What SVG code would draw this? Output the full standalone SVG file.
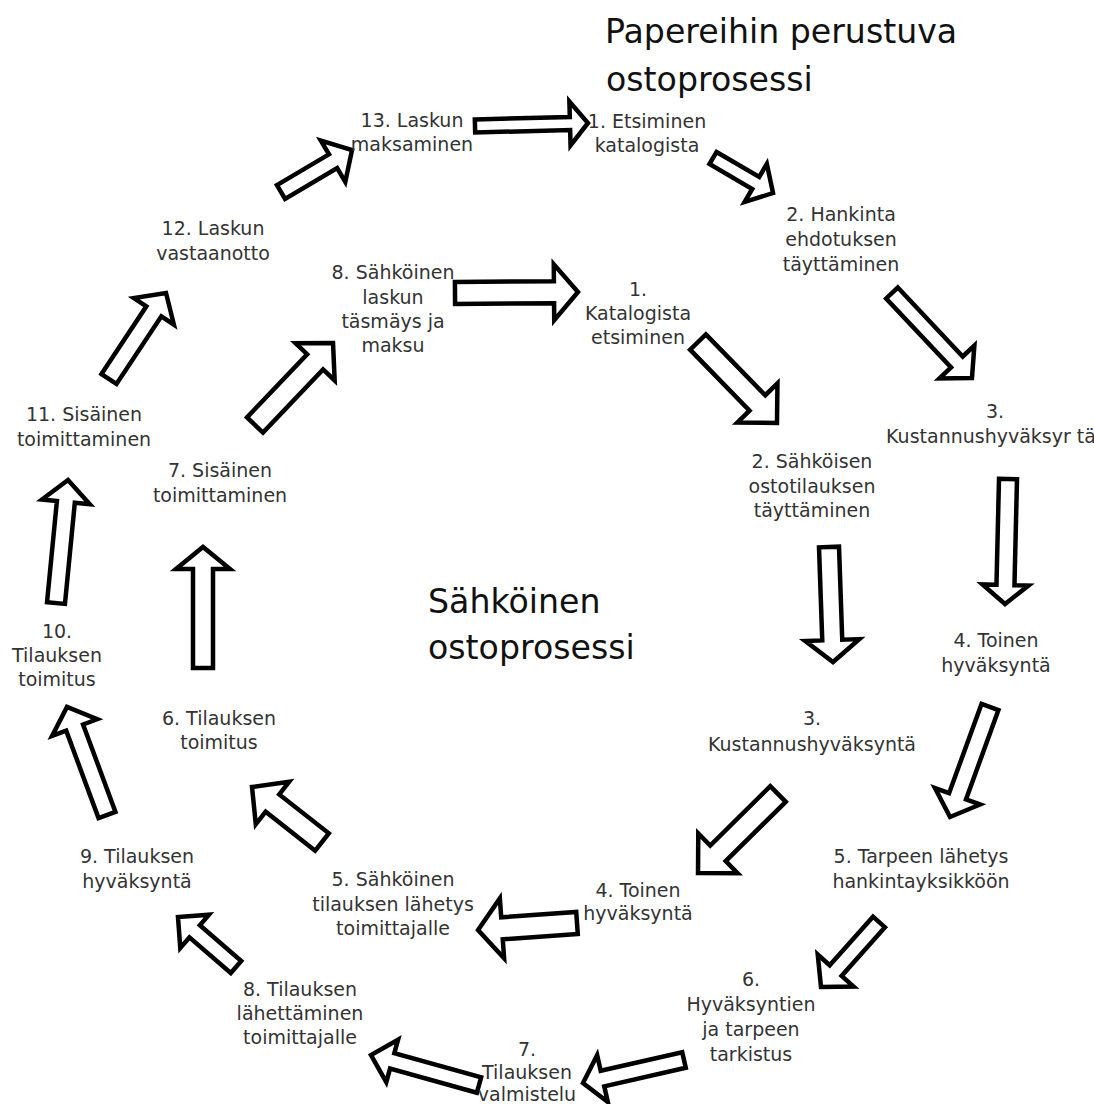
<svg xmlns="http://www.w3.org/2000/svg" width="1094" height="1104" viewBox="0 0 1094 1104">
  <style>
    .lbl { font-family: "DejaVu Sans", "Liberation Sans", sans-serif; font-size: 19px; fill: #333; text-anchor: middle; }
    .ttl { font-family: "DejaVu Sans", "Liberation Sans", sans-serif; font-size: 33.2px; fill: #111; }
    .arr { fill: #fff; stroke: #000; stroke-width: 4.5; stroke-linejoin: miter; }
  </style>
  <rect width="1094" height="1104" fill="#fff"/>

  <!-- cycle titles -->
  <g id="title-paper">
    <text class="ttl" x="605" y="43">Papereihin perustuva</text>
    <text class="ttl" x="606" y="91">ostoprosessi</text>
  </g>
  <g id="title-electronic">
    <text class="ttl" x="428" y="613">Sähköinen</text>
    <text class="ttl" x="428" y="659">ostoprosessi</text>
  </g>

  <!-- block arrows between steps: tail at origin, pointing along +x -->
  <g id="connectors">
    <!-- outer (paper) cycle -->
    <path class="arr" transform="translate(475,126) rotate(-1.52)" d="M0,-6.5 H95 V-22 L113,0 L95,22 V6.5 H0 Z"/>
    <path class="arr" transform="translate(713,158) rotate(30.26)" d="M0,-7 H49.5 V-22 L69.5,0 L49.5,22 V7 H0 Z"/>
    <path class="arr" transform="translate(892,293) rotate(46.74)" d="M0,-8 H94.7 V-24 L116.7,0 L94.7,24 V8 H0 Z"/>
    <path class="arr" transform="translate(1008,479) rotate(91.37)" d="M0,-9 H106 V-23 L125,0 L106,23 V9 H0 Z"/>
    <path class="arr" transform="translate(990,707) rotate(109.98)" d="M0,-9 H95 V-24 L117,0 L95,24 V9 H0 Z"/>
    <path class="arr" transform="translate(879,922) rotate(131.75)" d="M0,-8 H65.1 V-24 L87.1,0 L65.1,24 V8 H0 Z"/>
    <path class="arr" transform="translate(684,1060) rotate(167.17)" d="M0,-8 H83.6 V-24 L103.6,0 L83.6,24 V8 H0 Z"/>
    <path class="arr" transform="translate(479,1085) rotate(195.52)" d="M0,-8 H90.1 V-22 L112.1,0 L90.1,22 V8 H0 Z"/>
    <path class="arr" transform="translate(236,967) rotate(220.76)" d="M0,-8 H54.6 V-22 L76.6,0 L54.6,22 V8 H0 Z"/>
    <path class="arr" transform="translate(107,815) rotate(249.68)" d="M0,-9 H93.2 V-24 L115.2,0 L93.2,24 V9 H0 Z"/>
    <path class="arr" transform="translate(56,603) rotate(-84.43)" d="M0,-9 H101.6 V-24 L123.6,0 L101.6,24 V9 H0 Z"/>
    <path class="arr" transform="translate(109,379) rotate(-56.46)" d="M0,-9 H81.2 V-24 L103.2,0 L81.2,24 V9 H0 Z"/>
    <path class="arr" transform="translate(281,192) rotate(-30.6)" d="M0,-8 H60.5 V-24 L82.5,0 L60.5,24 V8 H0 Z"/>
    <!-- inner (electronic) cycle -->
    <path class="arr" transform="translate(455,293) rotate(-0.47)" d="M0,-11 H99 V-28 L123,0 L99,28 V11 H0 Z"/>
    <path class="arr" transform="translate(698,342) rotate(45.71)" d="M0,-11 H85.1 V-28 L113.1,0 L85.1,28 V11 H0 Z"/>
    <path class="arr" transform="translate(829,547) rotate(88)" d="M0,-10 H93.1 V-27 L115.1,0 L93.1,27 V10 H0 Z"/>
    <path class="arr" transform="translate(778,794) rotate(135.36)" d="M0,-11 H84.4 V-28 L112.4,0 L84.4,28 V11 H0 Z"/>
    <path class="arr" transform="translate(577,923) rotate(175.96)" d="M0,-11 H75.2 V-30 L99.2,0 L75.2,30 V11 H0 Z"/>
    <path class="arr" transform="translate(322,842) rotate(218.16)" d="M0,-11 H63 V-27 L89,0 L63,27 V11 H0 Z"/>
    <path class="arr" transform="translate(203,668) rotate(-90)" d="M0,-10 H99 V-27 L121,0 L99,27 V10 H0 Z"/>
    <path class="arr" transform="translate(255,425) rotate(-46.43)" d="M0,-11 H87.2 V-27 L113.2,0 L87.2,27 V11 H0 Z"/>
  </g>

  <!-- outer cycle steps -->
  <g id="p1"><text class="lbl" x="647" y="128">1. Etsiminen</text><text class="lbl" x="647" y="152">katalogista</text></g>
  <g id="p2"><text class="lbl" x="841" y="221">2. Hankinta</text><text class="lbl" x="841" y="246">ehdotuksen</text><text class="lbl" x="841" y="271">täyttäminen</text></g>
  <g id="p3"><text class="lbl" x="995" y="418">3.</text><text class="lbl" x="991" y="443">Kustannushyväksyr tä</text></g>
  <g id="p4"><text class="lbl" x="996" y="647">4. Toinen</text><text class="lbl" x="996" y="672">hyväksyntä</text></g>
  <g id="p5"><text class="lbl" x="921" y="863">5. Tarpeen lähetys</text><text class="lbl" x="921" y="888">hankintayksikköön</text></g>
  <g id="p6"><text class="lbl" x="751" y="986">6.</text><text class="lbl" x="751" y="1011">Hyväksyntien</text><text class="lbl" x="751" y="1036">ja tarpeen</text><text class="lbl" x="751" y="1061">tarkistus</text></g>
  <g id="p7"><text class="lbl" x="527" y="1056">7.</text><text class="lbl" x="527" y="1079">Tilauksen</text><text class="lbl" x="527" y="1101">valmistelu</text></g>
  <g id="p8"><text class="lbl" x="300" y="996">8. Tilauksen</text><text class="lbl" x="300" y="1020">lähettäminen</text><text class="lbl" x="300" y="1044">toimittajalle</text></g>
  <g id="p9"><text class="lbl" x="137" y="863">9. Tilauksen</text><text class="lbl" x="137" y="888">hyväksyntä</text></g>
  <g id="p10"><text class="lbl" x="57" y="638">10.</text><text class="lbl" x="57" y="662">Tilauksen</text><text class="lbl" x="57" y="686">toimitus</text></g>
  <g id="p11"><text class="lbl" x="84" y="421">11. Sisäinen</text><text class="lbl" x="84" y="446">toimittaminen</text></g>
  <g id="p12"><text class="lbl" x="213" y="235">12. Laskun</text><text class="lbl" x="213" y="260">vastaanotto</text></g>
  <g id="p13"><text class="lbl" x="412" y="127">13. Laskun</text><text class="lbl" x="412" y="151">maksaminen</text></g>

  <!-- inner cycle steps -->
  <g id="e1"><text class="lbl" x="638" y="296">1.</text><text class="lbl" x="638" y="320">Katalogista</text><text class="lbl" x="638" y="344">etsiminen</text></g>
  <g id="e2"><text class="lbl" x="812" y="468">2. Sähköisen</text><text class="lbl" x="812" y="493">ostotilauksen</text><text class="lbl" x="812" y="517">täyttäminen</text></g>
  <g id="e3"><text class="lbl" x="812" y="725">3.</text><text class="lbl" x="812" y="751">Kustannushyväksyntä</text></g>
  <g id="e4"><text class="lbl" x="638" y="897">4. Toinen</text><text class="lbl" x="638" y="920">hyväksyntä</text></g>
  <g id="e5"><text class="lbl" x="393" y="886">5. Sähköinen</text><text class="lbl" x="393" y="911">tilauksen lähetys</text><text class="lbl" x="393" y="935">toimittajalle</text></g>
  <g id="e6"><text class="lbl" x="219" y="725">6. Tilauksen</text><text class="lbl" x="219" y="749">toimitus</text></g>
  <g id="e7"><text class="lbl" x="220" y="477">7. Sisäinen</text><text class="lbl" x="220" y="502">toimittaminen</text></g>
  <g id="e8"><text class="lbl" x="393" y="279">8. Sähköinen</text><text class="lbl" x="393" y="304">laskun</text><text class="lbl" x="393" y="328">täsmäys ja</text><text class="lbl" x="393" y="352">maksu</text></g>
</svg>
